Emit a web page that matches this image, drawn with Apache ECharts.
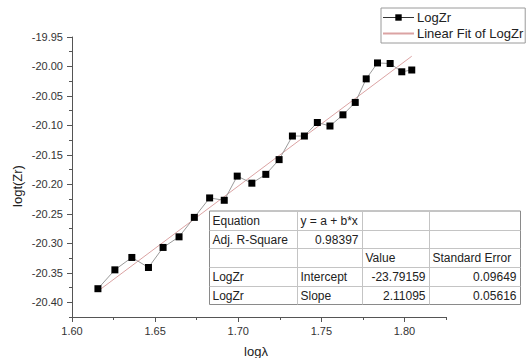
<!DOCTYPE html>
<html>
<head>
<meta charset="utf-8">
<script src="https://cdn.jsdelivr.net/npm/echarts@6/dist/echarts.min.js"></script>
<style>
  html, body { margin: 0; padding: 0; background: #fff; }
  #chart { width: 526px; height: 358px; }
</style>
</head>
<body>
<div id="chart"></div>
<script>
// log(lambda) positions of the measurements
const logLambda = [1.6156, 1.6258, 1.6360, 1.6460, 1.6548, 1.6644, 1.6736, 1.6828,
                   1.6916, 1.6994, 1.7082, 1.7166, 1.7246, 1.7326, 1.7398, 1.7476,
                   1.7552, 1.7630, 1.7704, 1.7770, 1.7838, 1.7914, 1.7984, 1.8044];
// measured log t(Zr)
const logZr = [-20.377, -20.345, -20.324, -20.341, -20.307, -20.289, -20.256, -20.223,
               -20.227, -20.186, -20.198, -20.183, -20.158, -20.118, -20.118, -20.095,
               -20.101, -20.082, -20.061, -20.021, -19.994, -19.995, -20.009, -20.006];
// linear fit parameters (y = a + b*x)
const fitIntercept = -23.79159;
const fitSlope = 2.11095;
const adjRSquare = '0.98397';
const interceptErr = '0.09649';
const slopeErr = '0.05616';
// fit summary table contents
const tableRows = [
  ['Equation', 'y = a + b*x', '', ''],
  ['Adj. R-Square', adjRSquare, '', ''],
  ['', '', 'Value', 'Standard Error'],
  ['LogZr', 'Intercept', fitIntercept.toFixed(5), interceptErr],
  ['LogZr', 'Slope', fitSlope.toFixed(5), slopeErr]
];
// alignment of each cell's text
const tableAlign = [
  ['left', 'left', 'left', 'left'],
  ['left', 'right', 'left', 'left'],
  ['left', 'left', 'left', 'left'],
  ['left', 'left', 'right', 'right'],
  ['left', 'left', 'right', 'right']
];

const seriesData = logLambda.map((x, i) => [x, logZr[i]]);
const xFirst = logLambda[0], xLast = logLambda[logLambda.length - 1];
const fitData = [
  [xFirst, fitIntercept + fitSlope * xFirst],
  [xLast, fitIntercept + fitSlope * xLast]
];

const W = 526, H = 358;
const plotLeft = 72, plotRight = 446, plotTop = 37, plotBottom = 317;
const xMin = 1.60, xMax = 1.825, yMin = -20.425, yMax = -19.95;
const pxPerX = (plotRight - plotLeft) / (xMax - xMin);
const pxPerY = (plotBottom - plotTop) / (yMax - yMin);
// second grid carries the labelled major ticks (1.60..1.80, -20.40..-19.95)
const majorRight = plotLeft + (1.80 - xMin) * pxPerX;
const majorBottom = plotTop + (yMax - (-20.40)) * pxPerY;

const labelFont = { fontFamily: 'Liberation Sans, Arial, sans-serif', fontSize: 11, color: '#333' };
const nameFont = { fontFamily: 'Liberation Sans, Arial, sans-serif', fontSize: 13, color: '#222' };

// table graphic
const colEdges = [209.5, 297.5, 362.5, 429.5, 520.5];
const rowTop = 211, rowH = 18.7;
const tableEls = [];
const tableBottom = rowTop + rowH * tableRows.length;
tableEls.push({
  type: 'rect', shape: { x: colEdges[0], y: rowTop, width: colEdges[4] - colEdges[0], height: rowH * tableRows.length },
  style: { fill: '#fff', stroke: '#8a8a8a', lineWidth: 1 }, z: 10
});
for (let r = 1; r < tableRows.length; r++) {
  const y = Math.round(rowTop + r * rowH) + 0.5;
  tableEls.push({ type: 'line', shape: { x1: colEdges[0], y1: y, x2: colEdges[4], y2: y },
    style: { stroke: '#c4c4c4', lineWidth: 1 }, z: 11 });
}
for (let c = 1; c < 4; c++) {
  tableEls.push({ type: 'line', shape: { x1: colEdges[c], y1: rowTop, x2: colEdges[c], y2: tableBottom },
    style: { stroke: '#c4c4c4', lineWidth: 1 }, z: 11 });
}
tableRows.forEach((row, r) => {
  row.forEach((txt, c) => {
    if (!txt) return;
    const align = tableAlign[r][c];
    const x = align === 'right' ? colEdges[c + 1] - 4 : colEdges[c] + 3;
    tableEls.push({
      type: 'text', z: 12,
      style: {
        text: txt, x: x, y: rowTop + r * rowH + rowH / 2 + 0.5,
        align: align, verticalAlign: 'middle',
        font: '12px "Liberation Sans", Arial, sans-serif', fill: '#222'
      }
    });
  });
});

const chart = echarts.init(document.getElementById('chart'), null, { renderer: 'svg', width: W, height: H });

chart.setOption({
  animation: false,
  backgroundColor: '#fff',
  grid: [
    { left: plotLeft, right: W - plotRight, top: plotTop, bottom: H - plotBottom, containLabel: false, outerBoundsMode: 'none' },
    { left: plotLeft, right: W - majorRight, top: plotTop, bottom: H - majorBottom, containLabel: false, outerBoundsMode: 'none' }
  ],
  xAxis: [
    {
      type: 'value', gridIndex: 0, min: xMin, max: xMax, interval: 0.025,
      name: 'logλ', nameLocation: 'middle', nameGap: 28,
      nameTextStyle: Object.assign({ padding: [0, 0, 0, -6] }, nameFont),
      axisLine: { show: true, onZero: false, lineStyle: { color: '#555', width: 1 } },
      axisTick: { show: true, length: 3, lineStyle: { color: '#555' } },
      axisLabel: { show: false },
      splitLine: { show: false }
    },
    {
      type: 'value', gridIndex: 1, min: 1.60, max: 1.80, interval: 0.05,
      position: 'bottom', offset: plotBottom - majorBottom,
      axisLine: { show: false, onZero: false },
      axisTick: { show: true, length: 5, lineStyle: { color: '#555' } },
      axisLabel: Object.assign({ margin: 8, formatter: v => v.toFixed(2) }, labelFont),
      splitLine: { show: false }
    }
  ],
  yAxis: [
    {
      type: 'value', gridIndex: 0, min: yMin, max: yMax, interval: 0.025,
      name: 'logt(Zr)', nameLocation: 'middle', nameGap: 48, nameRotate: 90,
      nameTextStyle: Object.assign({ padding: [0, 18, 0, 0] }, nameFont),
      axisLine: { show: true, onZero: false, lineStyle: { color: '#555', width: 1 } },
      axisTick: { show: true, length: 3, lineStyle: { color: '#555' } },
      axisLabel: { show: false },
      splitLine: { show: false }
    },
    {
      type: 'value', gridIndex: 1, min: -20.40, max: -19.95, interval: 0.05,
      axisLine: { show: false, onZero: false },
      axisTick: { show: true, length: 5, lineStyle: { color: '#555' } },
      axisLabel: Object.assign({ margin: 9, formatter: v => v.toFixed(2) }, labelFont),
      splitLine: { show: false }
    }
  ],
  legend: {
    orient: 'vertical', left: 381, top: 8,
    padding: [3, 2, 3, 1], itemGap: 3, itemWidth: 31, itemHeight: 8,
    borderColor: '#9a9a9a', borderWidth: 1, backgroundColor: '#fff',
    textStyle: { fontFamily: 'Liberation Sans, Arial, sans-serif', fontSize: 13, color: '#222', padding: [0, 0, 0, -2] },
    data: [
      { name: 'LogZr', lineStyle: { color: '#333', width: 1 } },
      { name: 'Linear Fit of LogZr', itemStyle: { opacity: 0 } }
    ]
  },
  series: [
    {
      name: 'Linear Fit of LogZr', type: 'line', xAxisIndex: 0, yAxisIndex: 0,
      data: fitData, showSymbol: false, symbol: 'none',
      lineStyle: { color: '#dba3a3', width: 1 }, itemStyle: { color: '#dba3a3' }, z: 2
    },
    {
      name: 'LogZr', type: 'line', xAxisIndex: 0, yAxisIndex: 0,
      data: seriesData, symbol: 'rect', symbolSize: 7,
      lineStyle: { color: '#9a9a9a', width: 1 }, itemStyle: { color: '#000' }, z: 3
    }
  ],
  graphic: tableEls
});
</script>
</body>
</html>
